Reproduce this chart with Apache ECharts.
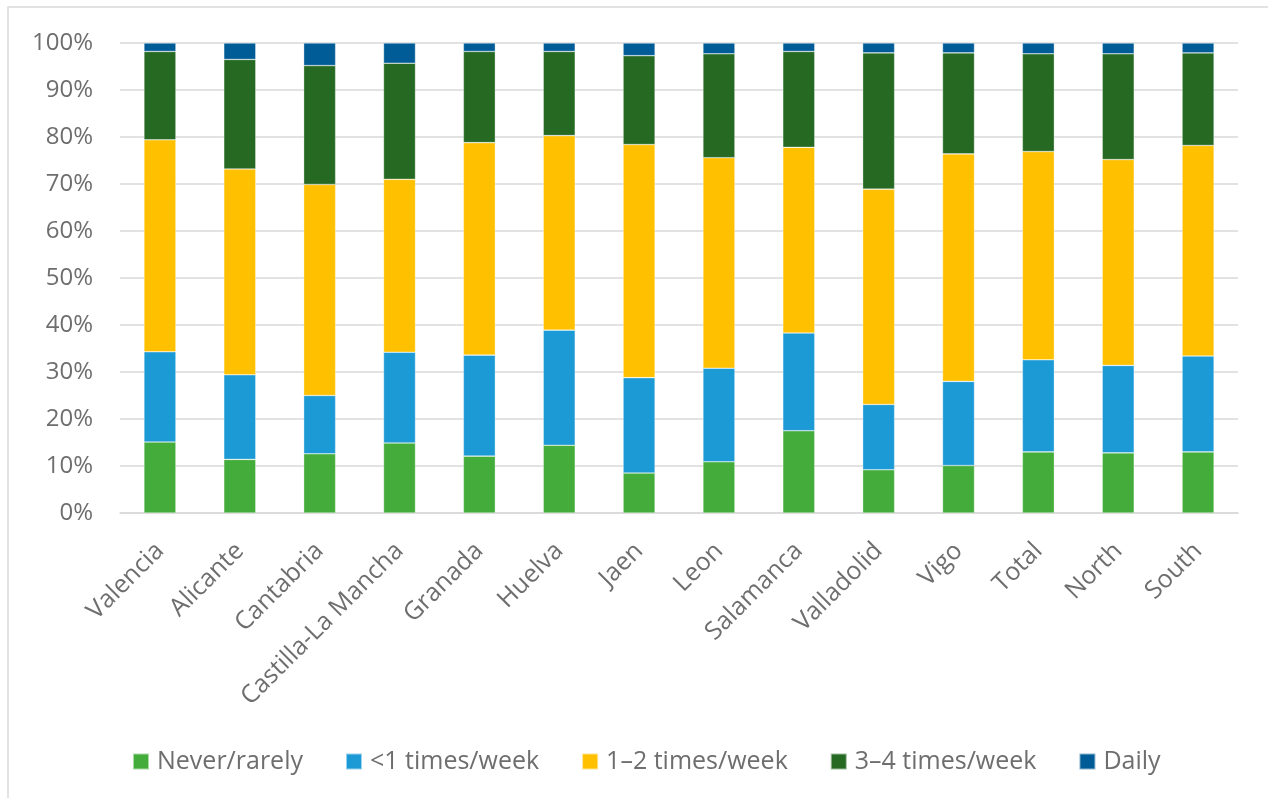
<!DOCTYPE html>
<html>
<head>
<meta charset="utf-8">
<title>Frequency by region</title>
<script src="https://cdn.jsdelivr.net/npm/echarts@6/dist/echarts.min.js"></script>
<style>
  html, body { margin: 0; padding: 0; background: #ffffff; }
  #chart { width: 1268px; height: 798px; }
</style>
</head>
<body>
<div id="chart"></div>
<script>
// Regions / groups shown along the x axis
const categories = ['Valencia', 'Alicante', 'Cantabria', 'Castilla-La Mancha', 'Granada', 'Huelva',
  'Jaen', 'Leon', 'Salamanca', 'Valladolid', 'Vigo', 'Total', 'North', 'South'];

// Share of respondents (%) for each frequency band
const neverRarely   = [15.1, 11.4, 12.6, 14.9, 12.1, 14.4, 8.5, 10.9, 17.5, 9.2, 10.1, 13.0, 12.8, 13.0];
const lessThanOnce  = [19.2, 18.0, 12.4, 19.3, 21.5, 24.5, 20.3, 19.9, 20.8, 13.9, 17.9, 19.6, 18.6, 20.4];
const oneToTwo      = [45.1, 43.8, 44.9, 36.8, 45.2, 41.4, 49.6, 44.8, 39.5, 45.8, 48.4, 44.3, 43.8, 44.8];
const threeToFour   = [18.8, 23.3, 25.3, 24.7, 19.4, 17.9, 18.9, 22.1, 20.4, 29.0, 21.5, 20.8, 22.5, 19.7];
const daily         = [1.8, 3.5, 4.8, 4.3, 1.8, 1.8, 2.7, 2.3, 1.8, 2.1, 2.1, 2.3, 2.3, 2.1];

const seriesNames = ['Never/rarely', '<1 times/week', '1\u20132 times/week', '3\u20134 times/week', 'Daily'];
const seriesData = [neverRarely, lessThanOnce, oneToTwo, threeToFour, daily];
const seriesColors = ['#43ac3a', '#1c9ad6', '#ffc000', '#256922', '#005c96'];

// y-axis ticks
const yMin = 0, yMax = 100, yStep = 10;

const textColor = '#6e6e6e';
const fontFamily = '"Open Sans", "Noto Sans", sans-serif';

const chart = echarts.init(document.getElementById('chart'), null, { renderer: 'canvas' });

chart.setOption({
  animation: false,
  backgroundColor: '#ffffff',
  textStyle: { fontFamily: fontFamily },
  graphic: [{
    type: 'rect',
    shape: { x: 8, y: 7, width: 1400, height: 900 },
    style: { fill: 'none', stroke: '#d9d9d9', lineWidth: 1.5 },
    silent: true,
    z: -10
  }],
  grid: { left: 120, right: 30, top: 43, bottom: 285, containLabel: false },
  legend: {
    data: seriesNames,
    left: 127,
    top: 744,
    itemWidth: 16,
    itemHeight: 16,
    itemGap: 42,
    icon: 'rect',
    textStyle: { color: textColor, fontSize: 25, fontFamily: fontFamily, padding: [0, 0, 0, 3] }
  },
  xAxis: {
    type: 'category',
    data: categories,
    axisLine: { show: true, lineStyle: { color: '#d9d9d9', width: 1.5 } },
    axisTick: { show: false },
    axisLabel: {
      rotate: 45,
      interval: 0,
      margin: 34,
      color: textColor,
      fontSize: 25,
      fontFamily: fontFamily
    }
  },
  yAxis: {
    type: 'value',
    min: yMin,
    max: yMax,
    interval: yStep,
    axisLine: { show: false },
    axisTick: { show: false },
    splitLine: { lineStyle: { color: '#d9d9d9', width: 1.5 } },
    axisLabel: {
      formatter: '{value}%',
      color: textColor,
      fontSize: 24,
      fontFamily: fontFamily,
      margin: 27
    }
  },
  series: seriesNames.map((name, i) => ({
    name: name,
    type: 'bar',
    stack: 'total',
    barWidth: 32,
    data: seriesData[i],
    itemStyle: {
      color: seriesColors[i],
      borderColor: 'rgba(255,255,255,0.55)',
      borderWidth: 0.6
    }
  }))
});
</script>
</body>
</html>
